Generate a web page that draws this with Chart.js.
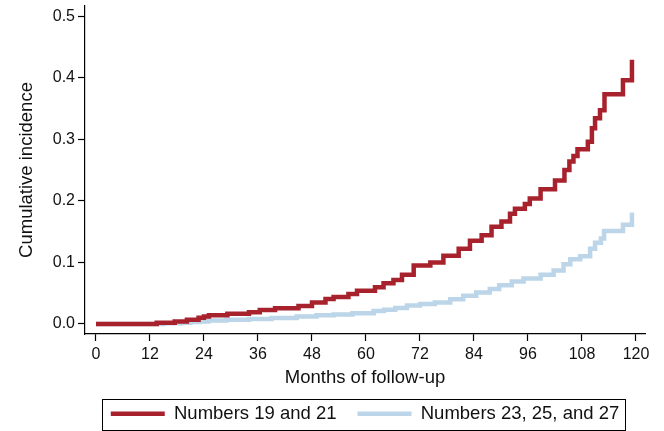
<!DOCTYPE html>
<html>
<head>
<meta charset="utf-8">
<script src="https://cdn.jsdelivr.net/npm/chart.js@4.4.1/dist/chart.umd.min.js"></script>
<style>
  html, body { margin: 0; padding: 0; background: #fff; }
</style>
</head>
<body>
<canvas id="incidence-chart" width="664" height="431"></canvas>
<script>
const xTicks = [0, 12, 24, 36, 48, 60, 72, 84, 96, 108, 120];
const yTicks = [0, 0.1, 0.2, 0.3, 0.4, 0.5];
const seriesNames = ['Numbers 19 and 21', 'Numbers 23, 25, and 27'];

// step points: value holds from this month until the next one
const redMonths = [0, 13.5, 17.5, 20.2, 22.8, 24, 25.1, 29.2, 34, 36.4, 39.8, 45, 48, 51, 52.8, 56.1, 58, 62, 63.9, 66.1,
  68, 70.6, 74.3, 77.2, 80.6, 83.1, 85.7, 87.9, 90.1, 92, 93.1, 95.3, 96.4, 98.8, 102, 104.1, 105.2, 106.1, 107,
  109.3, 110.2, 110.9, 112, 113, 117.1, 119.1];
const redIncidence = [0, 0.002, 0.004, 0.007, 0.010, 0.012, 0.014, 0.0167, 0.019, 0.0228, 0.0255, 0.029, 0.035, 0.0406, 0.044, 0.0488, 0.054, 0.0597, 0.066, 0.0715,
  0.08, 0.095, 0.1, 0.111, 0.122, 0.135, 0.144, 0.158, 0.1665, 0.179, 0.187, 0.195, 0.204, 0.219, 0.233, 0.25, 0.264, 0.273, 0.284,
  0.296, 0.318, 0.334, 0.347, 0.373, 0.396, 0.429];

const blueMonths = [0, 15, 19, 21, 23, 25, 29, 34, 39, 44.6, 49, 52.8, 57, 61.7, 64, 66.5, 69.1, 72, 75.3, 78.7, 81.6, 84.5, 87.5, 89.6,
  92.4, 95, 98.8, 101.7, 103.9, 105.4, 107.6, 109.8, 110.9, 112.2, 112.9, 117.1, 119.1];
const blueIncidence = [0, 0.001, 0.002, 0.003, 0.004, 0.0055, 0.0068, 0.008, 0.0095, 0.012, 0.014, 0.0155, 0.0174, 0.021, 0.023, 0.026, 0.03, 0.0325, 0.035, 0.04, 0.046, 0.051, 0.057, 0.063,
  0.069, 0.074, 0.08, 0.087, 0.097, 0.105, 0.11, 0.122, 0.132, 0.139, 0.151, 0.161, 0.181];

const toPoints = (xs, ys) => xs.map((x, i) => ({x: x, y: ys[i]}));

Chart.defaults.font.family = '"Liberation Sans", Arial, sans-serif';
Chart.defaults.color = '#111';

// frame around the legend row, like the Stata legend box
const legendFrame = {
  id: 'legendFrame',
  afterDraw(chart) {
    const lg = chart.legend;
    if (!lg || !lg.legendHitBoxes || !lg.legendHitBoxes.length) return;
    const boxes = lg.legendHitBoxes;
    const first = boxes[0];
    const last = boxes[boxes.length - 1];
    const cy = first.top + first.height / 2;
    const left = Math.round(first.left - 9) + 0.5;
    const right = Math.round(last.left + last.width + 6) + 0.5;
    const top = Math.round(cy - 15) + 0.5;
    const ctx = chart.ctx;
    ctx.save();
    ctx.strokeStyle = '#000';
    ctx.lineWidth = 1;
    ctx.strokeRect(left, top, right - left, 31);
    ctx.restore();
  }
};

new Chart('incidence-chart', {
  type: 'line',
  data: {
    datasets: [{
      label: seriesNames[0],
      data: toPoints(redMonths, redIncidence),
      borderColor: '#a8222e',
      backgroundColor: '#a8222e'
    }, {
      label: seriesNames[1],
      data: toPoints(blueMonths, blueIncidence),
      borderColor: '#bcd5e8',
      backgroundColor: '#bcd5e8'
    }]
  },
  options: {
    responsive: false,
    animation: false,
    layout: {padding: {left: 0, top: 6, right: 19, bottom: -2}},
    elements: {
      point: {radius: 0},
      line: {stepped: true, tension: 0, borderWidth: 4.5, borderCapStyle: 'butt', borderJoinStyle: 'miter', fill: false}
    },
    plugins: {
      tooltip: {enabled: false},
      legend: {
        position: 'bottom',
        fullSize: false,
        labels: {
          boxWidth: 54,
          boxHeight: 4.5,
          padding: 21,
          font: {size: 18.5},
          color: '#111',
          generateLabels(chart) {
            return chart.data.datasets.map((ds, i) => ({
              text: ds.label,
              fillStyle: ds.borderColor,
              strokeStyle: ds.borderColor,
              lineWidth: 0,
              hidden: false,
              datasetIndex: i,
              fontColor: '#111'
            }));
          }
        }
      }
    },
    scales: {
      x: {
        type: 'linear',
        min: -2.44,
        max: 122,
        afterBuildTicks(scale) { scale.ticks = xTicks.map(v => ({value: v})); },
        afterFit(scale) { scale.height = 49.5; scale.paddingLeft = 0; scale.paddingRight = 0; },
        ticks: {font: {size: 16}, color: '#111', padding: 4, maxRotation: 0, autoSkip: false},
        grid: {drawOnChartArea: false, drawTicks: true, tickLength: 7, tickColor: '#000', tickWidth: 1.2},
        border: {display: true, color: '#000', width: 1.2},
        title: {display: true, text: 'Months of follow-up', font: {size: 18.5}, color: '#111', padding: {top: 0, bottom: -5.2}}
      },
      y: {
        type: 'linear',
        min: -0.0163,
        max: 0.5165,
        afterBuildTicks(scale) { scale.ticks = yTicks.map(v => ({value: v})); },
        afterFit(scale) { scale.width = 85; scale.paddingTop = 0; scale.paddingBottom = 0; },
        ticks: {font: {size: 16}, color: '#111', padding: 3, callback: v => v.toFixed(1)},
        grid: {drawOnChartArea: false, drawTicks: true, tickLength: 7, tickColor: '#000', tickWidth: 1.2},
        border: {display: true, color: '#000', width: 1.2},
        title: {display: true, text: 'Cumulative incidence', font: {size: 18.5}, color: '#111', padding: {top: 15.8, bottom: 0}}
      }
    }
  },
  plugins: [legendFrame]
});
</script>
</body>
</html>
